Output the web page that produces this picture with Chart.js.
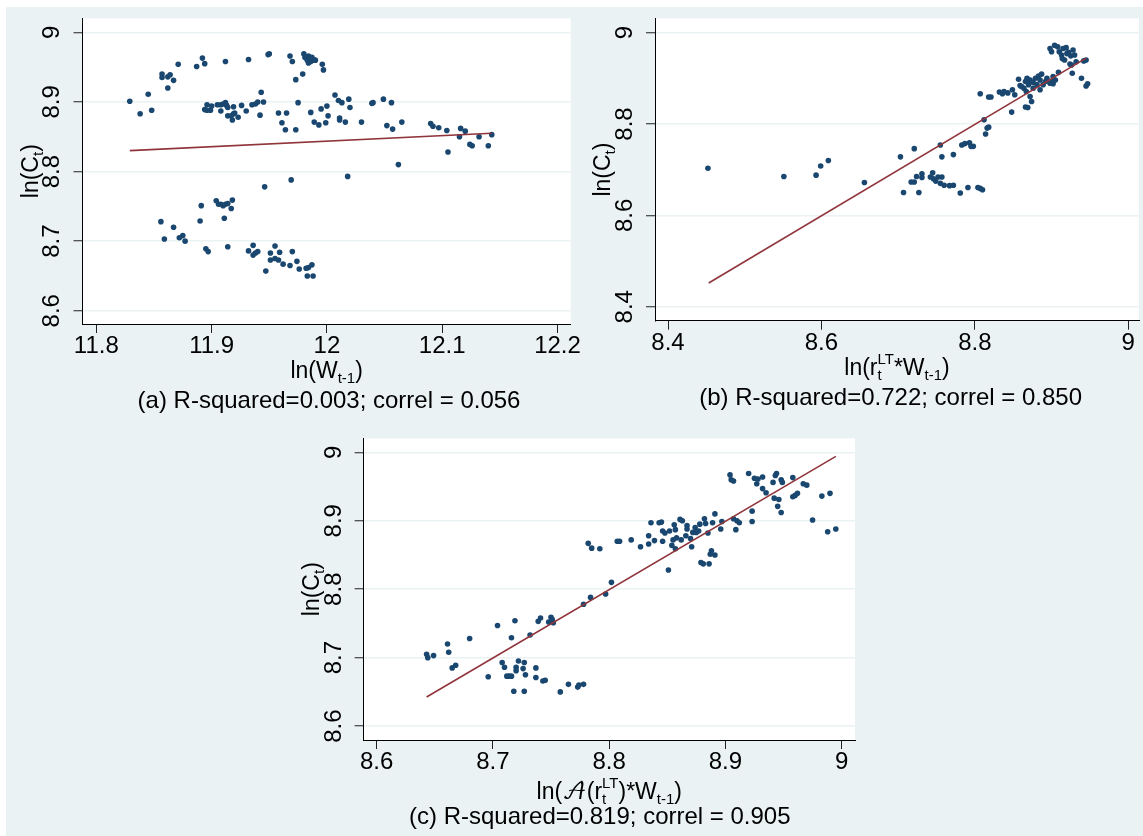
<!DOCTYPE html>
<html><head><meta charset="utf-8">
<script src="https://cdn.jsdelivr.net/npm/chart.js@4.4.0/dist/chart.umd.min.js"></script>
<style>
html,body{margin:0;padding:0;background:#fff;width:1143px;height:836px;overflow:hidden;}
#bg{position:absolute;left:6px;top:7px;width:1137px;height:829px;background:#eaf2f3;}
canvas{position:absolute;}
</style></head><body>
<div id="bg"></div>
<canvas id="ca" width="580" height="420" style="left:0;top:0;width:580px;height:420px"></canvas>
<canvas id="cb" width="563" height="420" style="left:580px;top:0;width:563px;height:420px"></canvas>
<canvas id="cc" width="580" height="416" style="left:290px;top:420px;width:580px;height:416px"></canvas>
<script>
// ---------- Panel (a): ln(C_t) vs ln(W_{t-1}) ----------
const aX = [11.829,11.838,11.848,11.845,11.857,11.857,11.862,11.864,11.867,11.862,11.871,11.887,11.892,11.894,11.912,11.932,11.949,11.950,11.968,11.970,11.973,11.979,
 11.980,11.981,11.983,11.984,11.986,11.987,11.989,11.990,11.984,11.983,11.996,11.997,
 11.896,11.894,11.896,11.899,11.900,11.905,11.908,11.908,11.910,11.912,11.913,11.914,11.919,11.914,11.917,11.918,11.919,11.920,11.923,11.926,11.930,11.935,11.938,11.940,11.943,11.945,11.942,11.958,11.965,11.961,11.964,11.973,11.975,11.986,11.989,11.993,11.995,11.999,12.000,12.001,12.007,12.010,12.013,12.011,12.011,12.016,12.019,12.020,12.030,12.039,12.040,12.049,12.056,12.052,12.057,12.065,12.090,12.092,12.097,12.104,12.105,12.116,12.120,12.115,12.124,12.126,12.132,12.140,12.143,12.062,12.018,11.969,11.946,
 11.904,11.906,11.908,11.910,11.912,11.914,11.918,11.917,11.891,11.890,11.911,11.856,11.867,11.859,11.872,11.875,11.877,11.895,11.897,11.914,11.932,11.936,11.936,11.938,11.940,11.947,11.951,11.955,11.951,11.955,11.958,11.959,11.962,11.968,11.970,11.974,11.976,11.982,11.984,11.987,11.983,11.988];
const aY = [8.901,8.883,8.888,8.911,8.940,8.935,8.936,8.939,8.931,8.920,8.954,8.951,8.963,8.955,8.958,8.961,8.968,8.969,8.966,8.958,8.932,8.940,
 8.969,8.964,8.960,8.966,8.958,8.964,8.960,8.960,8.956,8.962,8.954,8.946,
 8.896,8.889,8.888,8.888,8.894,8.896,8.896,8.887,8.897,8.899,8.895,8.892,8.893,8.880,8.880,8.874,8.883,8.884,8.878,8.895,8.887,8.896,8.897,8.900,8.914,8.900,8.881,8.884,8.884,8.870,8.860,8.860,8.899,8.885,8.871,8.867,8.890,8.870,8.894,8.880,8.910,8.902,8.899,8.877,8.874,8.871,8.904,8.892,8.871,8.898,8.899,8.904,8.899,8.866,8.861,8.871,8.869,8.865,8.863,8.859,8.828,8.862,8.858,8.850,8.839,8.837,8.850,8.837,8.853,8.810,8.793,8.788,8.778,
 8.758,8.753,8.753,8.751,8.753,8.754,8.759,8.747,8.751,8.729,8.733,8.728,8.720,8.703,8.705,8.708,8.700,8.689,8.685,8.692,8.686,8.694,8.680,8.683,8.685,8.657,8.683,8.693,8.673,8.675,8.673,8.684,8.667,8.665,8.685,8.671,8.660,8.661,8.662,8.666,8.650,8.650];
const aFitX = [11.829, 12.143];
const aFitY = [8.830, 8.855];
const aTicksX = [11.8, 11.9, 12, 12.1, 12.2];
const aTicksY = [8.6, 8.7, 8.8, 8.9, 9];

// ---------- Panel (b): ln(C_t) vs ln(r_t^LT * W_{t-1}) ----------
const bX = [8.452,8.551,8.593,8.599,8.609,8.656,8.703,8.721,8.755,8.757,8.772,8.783,8.787,8.793,8.795,8.798,8.707,8.727,8.717,8.721,
 8.724,8.731,8.731,8.742,8.745,8.746,8.749,8.752,8.757,8.755,8.760,8.767,8.772,8.781,8.791,8.804,8.810,8.807,8.812,8.816,
 8.818,8.814,8.807,8.818,8.821,8.832,8.836,8.838,8.843,8.849,8.852,8.848,8.857,8.861,8.866,8.868,8.870,8.872,8.867,8.872,
 8.874,8.866,8.869,8.876,8.879,8.881,8.883,8.885,8.887,8.889,8.892,8.894,8.898,8.902,8.905,8.909,8.876,8.864,8.859,8.885,
 8.898,8.900,8.908,8.910,8.913,8.915,8.919,8.917,8.914,8.922,8.925,8.928,8.930,8.926,8.924,8.927,8.932,8.939,8.942,8.945,
 8.945,8.947,8.904,8.920,8.902,8.901];
const bY = [8.703,8.685,8.688,8.708,8.720,8.672,8.728,8.746,8.754,8.728,8.733,8.754,8.757,8.759,8.751,8.751,8.650,8.650,8.673,8.673,
 8.685,8.691,8.683,8.684,8.693,8.680,8.675,8.684,8.684,8.670,8.666,8.665,8.666,8.649,8.661,8.661,8.656,8.659,8.809,8.791,
 8.793,8.778,8.866,8.859,8.859,8.870,8.866,8.871,8.868,8.875,8.864,8.826,8.898,8.882,8.893,8.900,8.886,8.896,8.871,8.860,
 8.849,8.837,8.836,8.891,8.900,8.886,8.905,8.875,8.909,8.886,8.893,8.900,8.889,8.888,8.896,8.913,8.878,8.878,8.884,8.896,
 8.965,8.958,8.969,8.958,8.951,8.965,8.967,8.940,8.943,8.957,8.949,8.962,8.951,8.929,8.931,8.911,8.936,8.900,8.938,8.940,
 8.883,8.888,8.972,8.954,8.904,8.893];
const bFitX = [8.453, 8.945];
const bFitY = [8.452, 8.944];
const bTicksX = [8.4, 8.6, 8.8, 9];
const bTicksY = [8.4, 8.6, 8.8, 9];

// ---------- Panel (c): ln(C_t) vs ln(A(r_t^LT) * W_{t-1}) ----------
const cX = [8.643,8.644,8.649,8.661,8.662,8.665,8.668,8.680,8.696,8.704,8.708,8.710,8.712,8.714,8.716,8.716,8.718,8.719,8.720,8.720,
 8.722,8.726,8.727,8.727,8.728,8.732,8.737,8.737,8.739,8.741,8.743,8.745,8.748,8.750,8.751,8.752,8.758,8.765,8.773,8.774,
 8.778,8.778,8.784,8.797,8.802,8.782,8.785,8.792,8.807,8.809,8.819,8.827,8.834,8.834,8.836,8.839,8.843,8.845,8.846,8.846,
 8.848,8.851,8.852,8.854,8.855,8.856,8.857,8.857,8.858,8.861,8.863,8.862,8.866,8.867,8.867,8.870,8.871,8.872,8.874,8.875,
 8.877,8.878,8.879,8.881,8.882,8.883,8.885,8.886,8.887,8.888,8.891,8.889,8.891,8.896,8.897,8.904,8.905,8.907,8.907,8.909,
 8.910,8.912,8.920,8.923,8.923,8.925,8.927,8.928,8.932,8.932,8.935,8.941,8.943,8.944,8.942,8.946,8.945,8.948,8.948,8.949,
 8.958,8.958,8.960,8.962,8.967,8.970,8.975,8.983,8.990,8.988,8.995];
const cY = [8.705,8.700,8.703,8.720,8.708,8.685,8.689,8.728,8.672,8.747,8.693,8.686,8.673,8.673,8.673,8.729,8.651,8.754,8.681,8.686,
 8.695,8.684,8.693,8.651,8.675,8.733,8.685,8.671,8.753,8.758,8.666,8.667,8.752,8.759,8.756,8.751,8.650,8.661,8.657,8.660,
 8.661,8.778,8.788,8.793,8.810,8.867,8.860,8.859,8.870,8.870,8.872,8.862,8.878,8.866,8.897,8.871,8.897,8.898,8.870,8.885,
 8.882,8.828,8.885,8.864,8.872,8.894,8.887,8.859,8.875,8.902,8.900,8.872,8.878,8.893,8.888,8.874,8.862,8.883,8.890,8.883,
 8.885,8.895,8.839,8.837,8.903,8.896,8.882,8.837,8.851,8.856,8.850,8.897,8.910,8.888,8.899,8.967,8.960,8.958,8.903,8.887,
 8.900,8.897,8.969,8.899,8.914,8.962,8.954,8.961,8.964,8.947,8.941,8.956,8.966,8.969,8.933,8.931,8.921,8.912,8.960,8.956,
 8.963,8.935,8.937,8.940,8.954,8.952,8.901,8.936,8.940,8.884,8.888];
const cFitX = [8.643, 8.995];
const cFitY = [8.6425, 8.994];
const cTicksX = [8.6, 8.7, 8.8, 8.9, 9];
const cTicksY = [8.6, 8.7, 8.8, 8.9, 9];

// ---------- styling / helpers ----------
const FONT = "'Liberation Sans', Arial, Helvetica, sans-serif";
const TICK_FONT = "'Liberation Sans Narrow', 'Arial Narrow', 'Liberation Sans', Arial, sans-serif";
const SCRIPT_FONT = "'DejaVu Math TeX Gyre', 'DejaVu Serif', 'DejaVu Sans', 'Noto Sans', serif";
const NAVY = '#1a476f', MAROON = '#90353b', GRIDC = '#eaf2f3';
Chart.defaults.font.family = FONT;
Chart.defaults.color = '#000';

function drawRich(ctx, segs, x, y, rotate) {
  ctx.save();
  ctx.translate(x, y);
  if (rotate) ctx.rotate(-Math.PI / 2);
  ctx.fillStyle = '#000';
  ctx.textBaseline = 'alphabetic';
  ctx.textAlign = 'left';
  const setF = p => { ctx.font = p.s + 'px ' + (p.f || FONT); };
  const meas = p => { setF(p); return ctx.measureText(p.t).width; };
  const widths = segs.map(sg => sg.stack ? Math.max(...sg.stack.map(meas)) : meas(sg));
  const total = widths.reduce((a, b) => a + b, 0);
  let cx = -total / 2;
  segs.forEach((sg, i) => {
    (sg.stack || [sg]).forEach(p => { setF(p); ctx.fillText(p.t, cx, p.dy || 0); });
    cx += widths[i];
  });
  ctx.restore();
}

const M = 23, S = 15;
const yTitleSegs = [{t:'ln(C', s:M}, {t:'t', s:S, dy:5}, {t:')', s:M}];

function makePanel(id, p) {
  const pts = p.xs.map((x, i) => ({x: x, y: p.ys[i]}));
  const fit = p.fx.map((x, i) => ({x: x, y: p.fy[i]}));
  const textPlugin = {
    id: 'frame_' + id,
    beforeDraw(chart) {
      const a = chart.chartArea, ctx = chart.ctx;
      ctx.save(); ctx.fillStyle = '#fff';
      ctx.fillRect(a.left, a.top, a.right - a.left, a.bottom - a.top);
      ctx.restore();
    },
    afterDraw(chart) {
      const a = chart.chartArea, ctx = chart.ctx;
      drawRich(ctx, yTitleSegs, p.yTitleX, (a.top + a.bottom) / 2, true);
      drawRich(ctx, p.xTitle, (a.left + a.right) / 2, p.xTitleY, false);
      drawRich(ctx, [{t: p.caption, s: 24}], p.capX, p.capY, false);
    }
  };
  return new Chart(document.getElementById(id), {
    type: 'scatter',
    data: {
      datasets: [
        {type: 'line', data: fit, borderColor: MAROON, borderWidth: 1.6, pointRadius: 0, fill: false, tension: 0},
        {type: 'scatter', data: pts, backgroundColor: NAVY, borderColor: NAVY, borderWidth: 0, pointRadius: 2.8}
      ]
    },
    options: {
      responsive: false, animation: false, devicePixelRatio: 1,
      layout: {padding: p.pad},
      plugins: {legend: {display: false}, tooltip: {enabled: false}},
      scales: {
        x: {
          type: 'linear', min: p.xr[0], max: p.xr[1],
          afterBuildTicks: s => { s.ticks = p.tx.map(v => ({value: v})); },
          afterFit: s => { s.height = p.xh; },
          ticks: {callback: v => String(v), font: {size: 24, family: TICK_FONT}, padding: -1, color: '#000', maxRotation: 0, autoSkip: false},
          grid: {drawOnChartArea: false, tickLength: 9, tickColor: '#222', tickWidth: 1},
          border: {color: '#000', width: 1}
        },
        y: {
          type: 'linear', min: p.yr[0], max: p.yr[1],
          afterBuildTicks: s => { s.ticks = p.ty.map(v => ({value: v})); },
          afterFit: s => { s.width = p.yw; },
          ticks: {callback: v => String(v), font: {size: 24, family: TICK_FONT}, padding: 4, color: '#000',
                  minRotation: 90, maxRotation: 90, crossAlign: 'center', autoSkip: false},
          grid: {color: GRIDC, lineWidth: 1.5, tickLength: 9, tickColor: '#222', tickWidth: 1},
          border: {color: '#000', width: 1}
        }
      }
    },
    plugins: [textPlugin]
  });
}

makePanel('ca', {
  xs: aX, ys: aY, fx: aFitX, fy: aFitY, tx: aTicksX, ty: aTicksY,
  xr: [11.788, 12.2115], yr: [8.581, 9.02],
  pad: {top: 17, right: 6, left: 0, bottom: 0}, yw: 82.5, xh: 96,
  yTitleX: 37.5,
  xTitle: [{t:'ln(W', s:M}, {t:'t-1', s:S, dy:5}, {t:')', s:M}], xTitleY: 378,
  caption: '(a) R-squared=0.003; correl = 0.056', capX: 329, capY: 407.5
});

makePanel('cb', {
  xs: bX, ys: bY, fx: bFitX, fy: bFitY, tx: bTicksX, ty: bTicksY,
  xr: [8.383, 9.014], yr: [8.3695, 9.031],
  pad: {top: 17, right: 0, left: 0, bottom: 0}, yw: 75, xh: 99.3,
  yTitleX: 30.2,
  xTitle: [{t:'ln(r', s:M}, {stack:[{t:'t', s:S, dy:5}, {t:'LT', s:S, dy:-11}]}, {t:'*W', s:M}, {t:'t-1', s:S, dy:5}, {t:')', s:M}], xTitleY: 375,
  caption: '(b) R-squared=0.722; correl = 0.850', capX: 310.6, capY: 405.4
});

makePanel('cc', {
  xs: cX, ys: cY, fx: cFitX, fy: cFitY, tx: cTicksX, ty: cTicksY,
  xr: [8.5888, 9.0115], yr: [8.5797, 9.0203],
  pad: {top: 16, right: 15, left: 0, bottom: 0}, yw: 73.6, xh: 96,
  yTitleX: 28.6,
  xTitle: [{t:'ln(', s:M}, {t:'\u{1D49C}', s:M, f:SCRIPT_FONT}, {t:'(r', s:M}, {stack:[{t:'t', s:S, dy:5}, {t:'LT', s:S, dy:-11}]}, {t:')*W', s:M}, {t:'t-1', s:S, dy:5}, {t:')', s:M}], xTitleY: 379.3,
  caption: '(c) R-squared=0.819; correl = 0.905', capX: 309.8, capY: 403.5
});
</script>
</body></html>
